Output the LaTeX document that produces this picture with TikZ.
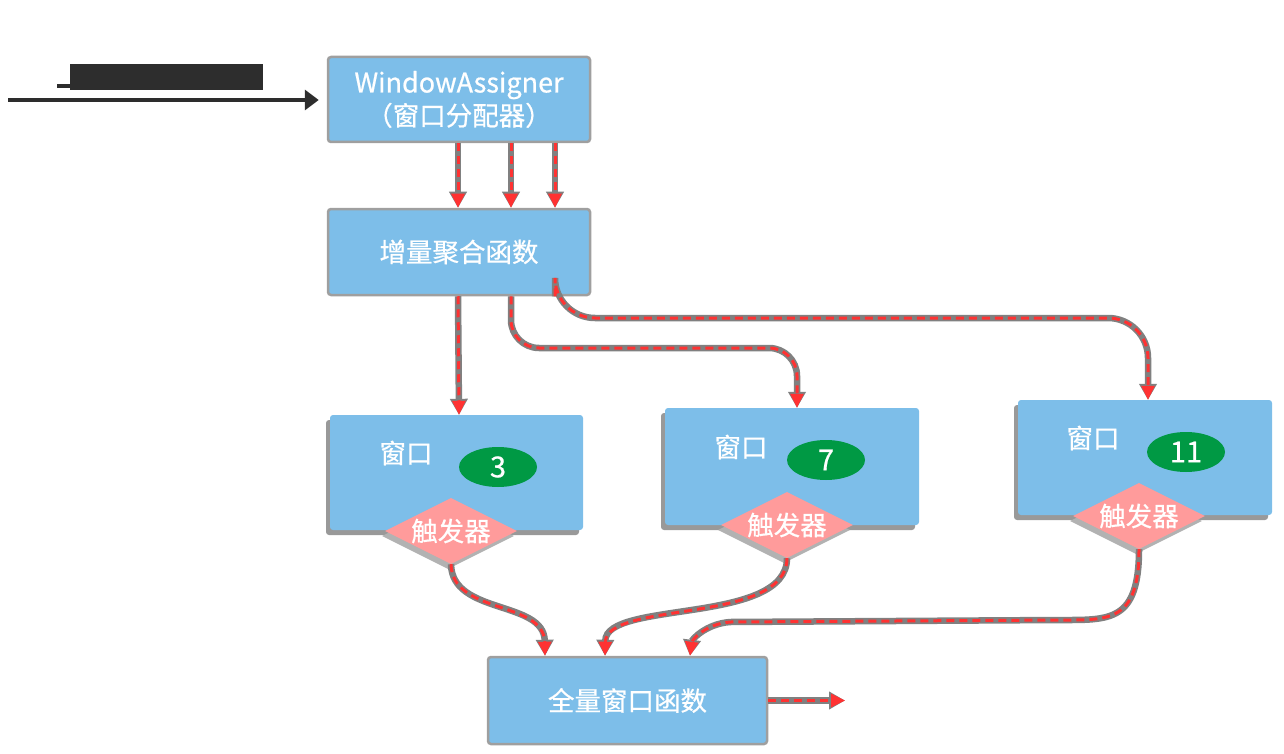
\documentclass[tikz,border=0pt]{standalone}
\usepackage{fontspec}
\setmainfont{Noto Sans CJK SC}[UprightFeatures={FakeBold=0.6}]
\usetikzlibrary{shapes.geometric,arrows.meta,shadows}
\definecolor{boxblue}{RGB}{125,190,233}
\definecolor{wingreen}{RGB}{0,153,68}
\definecolor{trigpink}{RGB}{255,155,155}
\definecolor{linered}{RGB}{255,50,50}
\definecolor{shadowgray}{RGB}{128,128,128}
\definecolor{darkline}{RGB}{45,45,45}
\newcommand\fsz{\fontsize{26.5}{33}\selectfont}
\newcommand\wsz{\fontsize{27}{33}\selectfont}
\newcommand\dsz{\fontsize{29}{33}\selectfont}
\tikzset{
  box/.style={rectangle, fill=boxblue, draw=gray!75, line width=2.5pt, rounded corners=3pt,
    text=white, font=\fsz, align=center, inner sep=0pt},
  winbox/.style={rectangle, fill=boxblue, rounded corners=3pt, inner sep=0pt,
    drop shadow={shadow xshift=-4pt, shadow yshift=-5pt, fill=gray!80, opacity=1}},
  winlabel/.style={text=white, font=\fsz, inner sep=0pt},
  numell/.style={ellipse, fill=wingreen, minimum width=78pt, minimum height=40pt, inner sep=0pt,
    text=white, font=\dsz},
  trig/.style={diamond, aspect=2, fill=trigpink, minimum width=132pt, minimum height=66pt,
    inner sep=0pt, text=white, font=\fsz,
    drop shadow={shadow xshift=-3pt, shadow yshift=-5pt, fill=gray!60, opacity=1}},
  conn/.style={draw=linered, dash pattern=on 8pt off 5pt, line width=3pt,
    -{Triangle[length=14pt,width=13pt]},
    preaction={draw=shadowgray, solid, line width=6.5pt, -{Triangle[length=16pt,width=17pt]}}},
}
\begin{document}
\begin{tikzpicture}[x=1pt,y=-1pt]
\useasboundingbox (0,0) rectangle (1284,754);

% boxes
\node[box, minimum width=262pt, minimum height=85pt] (wa) at (459,99.5)
  {{\wsz WindowAssigner}\\（窗口分配器）};
\node[box, minimum width=262pt, minimum height=86pt] (inc) at (459,252) {增量聚合函数};

\node[winbox, minimum width=253pt, minimum height=115pt] (w3) at (456.5,472.5) {};
\node[winbox, minimum width=254pt, minimum height=117pt] (w7) at (792,466.5) {};
\node[winbox, minimum width=254pt, minimum height=115pt] (w11) at (1145,457.5) {};

\node[winlabel] (w3l) at (406,453) {窗口};
\node[winlabel] (w7l) at (741,447) {窗口};
\node[winlabel] (w11l) at (1093,438) {窗口};

\node[numell] (e3) at (498,467) {3};
\node[numell] (e7) at (826,460) {7};
\node[numell] (e11) at (1186,452) {11};

\node[trig] (d3) at (451,531) {触发器};
\node[trig] (d7) at (787,525) {触发器};
\node[trig] (d11) at (1139,516) {触发器};

\node[box, minimum width=279pt, minimum height=87pt] (full) at (627.5,700.5) {全量窗口函数};

% input (label obscured in the reference)
\coordinate (src) at (8,100);
\fill[darkline] (70,64) rectangle (263,90);
\fill[darkline] (57,84) rectangle (72,88);
\draw[darkline, line width=3.5pt, -{Triangle[length=14pt,width=20pt]}] (src) -- ([xshift=-8pt,yshift=-0.5pt]wa.west);

% assigner -> incremental
\draw[conn] ([xshift=-1pt]wa.south) -- ([xshift=-1pt]inc.north);
\draw[conn] ([xshift=52pt]wa.south) -- ([xshift=52pt]inc.north);
\draw[conn] ([xshift=96pt]wa.south) -- ([xshift=96pt]inc.north);

% incremental -> windows
\draw[conn] ([xshift=-1pt]inc.south) -- (inc.south |- w3.north);
\coordinate (c7) at (650,348);
\draw[conn, rounded corners=28pt] ([xshift=52pt]inc.south) |- (c7) -| ([xshift=5pt]w7.north);
\coordinate (c11) at (850,318);
\draw[conn, rounded corners=40pt] ([xshift=96pt]inc.south) |- (c11) -| ([xshift=3pt]w11.north);

% triggers -> full window function
\draw[conn] (d3.south) .. controls (452,615) and (544,600) .. ([xshift=-82.5pt]full.north);
\draw[conn] (d7.south) .. controls (787,625) and (606,600) .. ([xshift=-22.5pt]full.north);
\draw[conn] (d11.south) .. controls (1139,622) and (1110,620) .. (1060,620)
  -- (730,622) .. controls (705,624) and (692,640) .. ([xshift=62.5pt]full.north);

% output
\coordinate (out) at (845,700.5);
\draw[conn] (full.east) -- (out);
\end{tikzpicture}
\end{document}
